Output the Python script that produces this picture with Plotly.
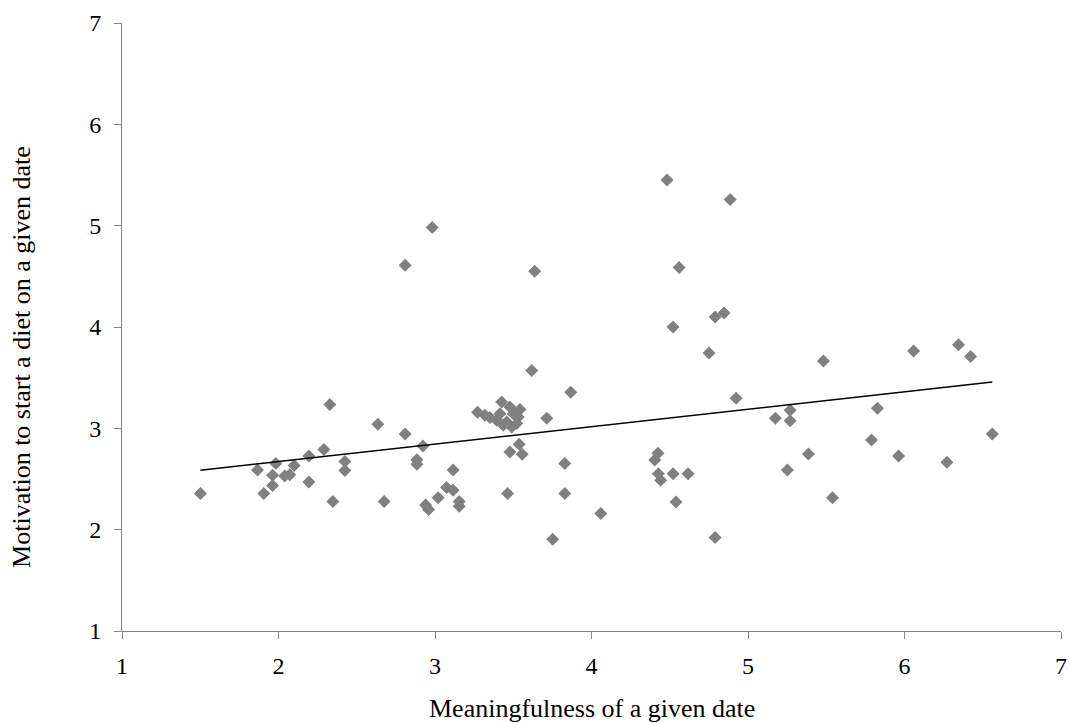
import numpy as np
import plotly.graph_objects as go

# Meaningfulness of a given date (x) vs motivation to start a diet (y)
meaningfulness = [
    1.501, 2.982, 2.809, 3.637, 3.618, 3.867, 3.714, 2.328, 2.635, 2.809,
    2.923, 2.884, 2.884, 3.116, 3.074, 3.116, 3.020, 2.940, 2.959, 3.155,
    3.155, 2.675, 2.347, 2.194, 2.194, 2.290, 2.424, 2.424, 2.100, 2.072,
    2.040, 1.983, 1.962, 1.962, 1.906, 1.866, 3.464, 3.479, 3.538, 3.557,
    3.829, 3.829, 4.059, 3.752,
    3.272, 3.319, 3.351, 3.426, 3.479, 3.543, 3.415, 3.500, 3.394, 3.458,
    3.522, 3.436, 3.490, 3.532,
    4.483, 4.886, 4.560, 4.790, 4.847, 4.521, 4.751, 4.924, 5.482, 6.058,
    6.345, 6.422, 5.269, 5.175, 5.269, 5.827, 6.561, 5.789, 5.962, 6.271,
    5.386, 5.252, 5.540, 4.425, 4.404, 4.427, 4.442, 4.521, 4.617, 4.540,
    4.790,
]
motivation = [
    2.356, 4.981, 4.609, 4.550, 3.570, 3.356, 3.099, 3.234, 3.040, 2.944,
    2.826, 2.691, 2.645, 2.589, 2.415, 2.389, 2.316, 2.243, 2.198, 2.277,
    2.231, 2.277, 2.277, 2.470, 2.727, 2.790, 2.672, 2.583, 2.632, 2.543,
    2.530, 2.652, 2.537, 2.435, 2.356, 2.589, 2.356, 2.767, 2.842, 2.744,
    2.652, 2.356, 2.159, 1.905,
    3.158, 3.129, 3.106, 3.260, 3.211, 3.185, 3.145, 3.145, 3.079, 3.063,
    3.047, 3.030, 3.013, 3.112,
    5.451, 5.257, 4.586, 4.099, 4.138, 4.000, 3.744, 3.296, 3.665, 3.763,
    3.826, 3.708, 3.178, 3.099, 3.076, 3.198, 2.944, 2.885, 2.727, 2.665,
    2.747, 2.589, 2.316, 2.754, 2.688, 2.553, 2.487, 2.553, 2.553, 2.273,
    1.922,
]

# Linear trendline
trend_intercept = 2.328
trend_slope = 0.1721

axis_ticks = [1, 2, 3, 4, 5, 6, 7]
x_title = "Meaningfulness of a given date"
y_title = "Motivation to start a diet on a given date"

FONT = "Liberation Serif, Times New Roman, serif"
AXIS_COLOR = "#868686"

x_arr = np.array(meaningfulness)
trend_x = np.array([x_arr.min(), x_arr.max()])
trend_y = trend_intercept + trend_slope * trend_x

fig = go.Figure()
fig.add_trace(go.Scatter(
    x=meaningfulness, y=motivation, mode="markers",
    marker=dict(symbol="diamond", size=10, color="#808080", line=dict(width=0)),
    showlegend=False, hoverinfo="x+y",
))
fig.add_trace(go.Scatter(
    x=trend_x, y=trend_y, mode="lines",
    line=dict(color="#000000", width=1.5),
    showlegend=False, hoverinfo="skip",
))

axis_common = dict(
    range=[1, 7], tickmode="array", tickvals=axis_ticks,
    ticktext=[str(t) for t in axis_ticks],
    showgrid=False, zeroline=False, showline=True, linecolor=AXIS_COLOR,
    linewidth=1, ticks="outside", ticklen=7, tickwidth=1, tickcolor=AXIS_COLOR,
    tickfont=dict(family=FONT, size=24, color="#000000"), automargin=False,
    fixedrange=True,
)

fig.update_layout(
    width=1070, height=723,
    margin=dict(l=122, r=9, t=23, b=92),
    paper_bgcolor="white", plot_bgcolor="white",
    xaxis=dict(**axis_common, ticklabelstandoff=6),
    yaxis=dict(**axis_common, ticklabelstandoff=8),
    annotations=[
        dict(text=x_title, xref="paper", yref="paper", x=0.5, y=-0.127,
             xanchor="center", yanchor="middle", showarrow=False,
             font=dict(family=FONT, size=26, color="#000000")),
        dict(text=y_title, xref="paper", yref="paper", x=-0.107, y=0.45,
             xanchor="center", yanchor="middle", showarrow=False, textangle=-90,
             font=dict(family=FONT, size=26, color="#000000")),
    ],
)

fig.write_html("out.html")
